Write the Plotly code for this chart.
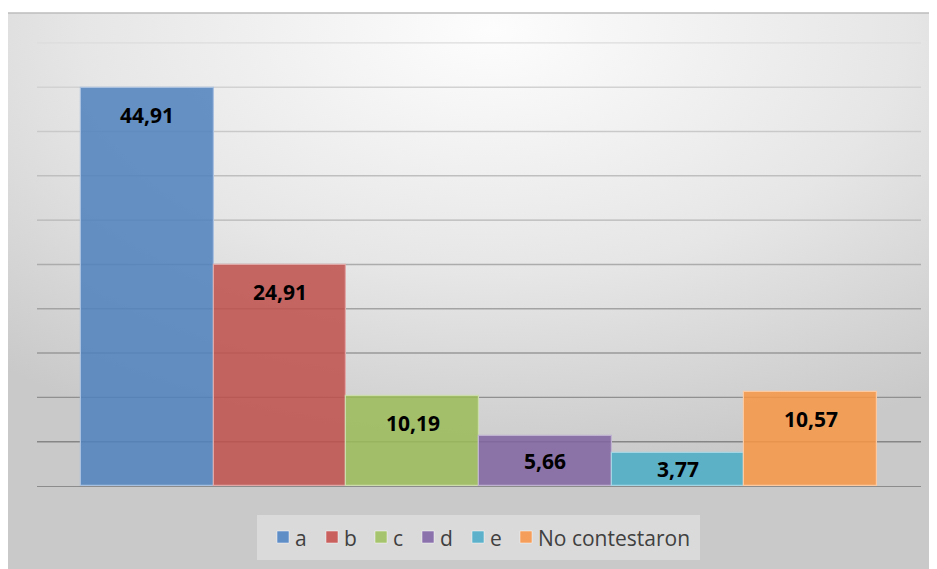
import base64
import plotly.graph_objects as go

categories = ["a", "b", "c", "d", "e", "No contestaron"]
values = [44.91, 24.91, 10.19, 5.66, 3.77, 10.57]
labels = ["44,91", "24,91", "10,19", "5,66", "3,77", "10,57"]
grid_ticks = [5, 10, 15, 20, 25, 30, 35, 40, 45, 50]
colors = ["rgba(79,129,189,0.86)", "rgba(192,80,77,0.86)", "rgba(155,187,89,0.86)",
          "rgba(128,100,162,0.86)", "rgba(75,172,198,0.86)", "rgba(247,150,70,0.86)"]
legend_colors = ["#5f8ec6", "#c9605d", "#a6c46d", "#8b72ad", "#5db1ca", "#f59e5b"]
line_colors = ["#a9c1df", "#e0a9a7", "#cddcac", "#bfb1d0", "#a5d5e2", "#fbcaa2"]
legend_left = [277, 326, 375, 422, 472, 520]  # screen x of legend swatches

# page body has an 8px margin, so the figure is drawn 8px right/down
OFF = 8
W, H = 937 - OFF, 569 - OFF
y_max = 51
ML, MR, MT, MB = 37 - OFF, 16, 26, 83
plot_w = W - ML - MR
plot_h = H - MT - MB
px_per_unit = plot_h / y_max


def fx(sx):  # screen x -> paper fraction
    return (sx - OFF - ML) / plot_w


def fy(sy):  # screen y -> paper fraction
    return (H - MB - (sy - OFF)) / plot_h


svg = '''<svg xmlns="http://www.w3.org/2000/svg" width="930" height="556" viewBox="0 0 930 556" preserveAspectRatio="none">
<defs><radialGradient id="g" cx="52%" cy="3%" r="80%" fx="52%" fy="3%">
<stop offset="0%" stop-color="#fdfdfd"/><stop offset="55%" stop-color="#e6e6e6"/><stop offset="100%" stop-color="#c9c9c9"/></radialGradient></defs>
<rect width="930" height="556" fill="url(#g)"/></svg>'''
src = "data:image/svg+xml;base64," + base64.b64encode(svg.encode()).decode()

fig = go.Figure()
for i, (cat, v, col, lc) in enumerate(zip(categories, values, colors, line_colors)):
    fig.add_trace(go.Bar(
        x=[i], y=[v], name=cat, width=1.0,
        marker=dict(color=col, line=dict(color=lc, width=1.2)),
        hoverinfo="skip", showlegend=False,
    ))

# gridlines below the translucent bars, darker toward the bottom
for t in grid_ticks:
    f = t / 50
    c = int(125 + (220 - 125) * f)
    fig.add_shape(type="line", xref="paper", yref="y", x0=0, x1=1, y0=t, y1=t,
                  line=dict(color=f"rgb({c},{c},{c})", width=1.4), layer="below")

for i, (v, lab) in enumerate(zip(values, labels)):
    h = v * px_per_unit
    shift = -min(27, h / 2)
    fig.add_annotation(x=i, y=v, text=f"<b>{lab}</b>", showarrow=False,
                       yshift=shift, yanchor="middle",
                       font=dict(family="Open Sans", size=21, color="#000000"))

cx0, cx1 = fx(7), fx(940)
cy_top, cy_bot = fy(13), fy(572)

fig.add_layout_image(dict(source=src, xref="paper", yref="paper",
                          x=cx0, y=cy_top, sizex=cx1 - cx0, sizey=cy_top - cy_bot,
                          sizing="stretch", xanchor="left", yanchor="top", layer="below"))
fig.add_shape(type="line", xref="paper", yref="paper", x0=cx0, x1=cx1, y0=cy_top, y1=cy_top,
              line=dict(color="#bdbdbd", width=1.5))
fig.add_shape(type="line", xref="paper", yref="paper", x0=cx0, x1=cx0, y0=cy_top, y1=cy_bot,
              line=dict(color="#e6e6e6", width=1))
fig.add_shape(type="rect", xref="paper", yref="paper", x0=fx(257), x1=fx(700), y0=fy(515), y1=fy(560),
              fillcolor="rgba(240,240,240,0.45)", line=dict(width=0), layer="below")

# legend
for name, col, lx in zip(categories, legend_colors, legend_left):
    fig.add_shape(type="rect", xref="paper", yref="paper",
                  x0=fx(lx), x1=fx(lx + 12), y0=fy(531), y1=fy(543),
                  fillcolor=col, line=dict(color="rgba(255,255,255,0.6)", width=0.8))
    fig.add_annotation(xref="paper", yref="paper", x=fx(lx + 16), y=fy(537.5),
                       xanchor="left", yanchor="middle", text=name, showarrow=False,
                       font=dict(family="Open Sans", size=21, color="#404040"))

fig.update_layout(
    width=W, height=H,
    margin=dict(l=ML, r=MR, t=MT, b=MB),
    paper_bgcolor="#ffffff",
    plot_bgcolor="rgba(0,0,0,0)",
    barmode="overlay",
    bargap=0,
    showlegend=False,
    xaxis=dict(range=[-0.83, 5.83], showticklabels=False, showgrid=False, zeroline=False,
               showline=False, fixedrange=True),
    yaxis=dict(range=[0, y_max], showticklabels=False, showgrid=False,
               zeroline=True, zerolinecolor="#8c8c8c", zerolinewidth=1.2,
               showline=False, fixedrange=True),
)

fig.write_html("out.html")
